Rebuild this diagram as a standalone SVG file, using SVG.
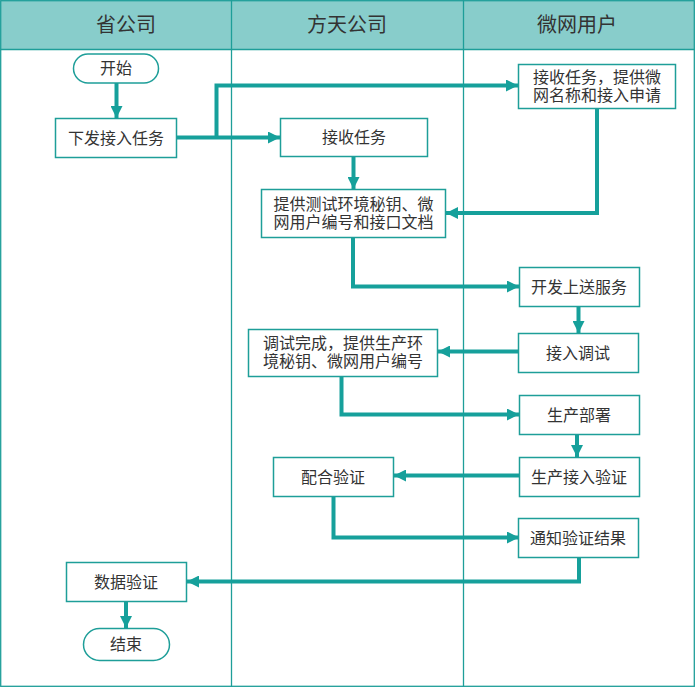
<svg xmlns="http://www.w3.org/2000/svg" width="695" height="687" viewBox="0 0 695 687">
<defs>
<marker id="arr" markerUnits="userSpaceOnUse" markerWidth="12" markerHeight="12" refX="12" refY="6" orient="auto" viewBox="0 0 12 12">
<path d="M0,0 L12,6 L0,12 z" fill="#16A09B"/>
</marker>
</defs>
<style>
.lane{fill:none;stroke:#1E9E99;stroke-width:1.3}
.box{fill:#fff;stroke:#1E9E99;stroke-width:1.5}
.t{font-family:"Noto Sans CJK SC","Noto Sans",sans-serif;font-size:16px;fill:#333;text-anchor:middle}
.h{font-family:"Noto Sans CJK SC","Noto Sans",sans-serif;font-size:20px;fill:#333;text-anchor:middle}
.c{fill:none;stroke:#16A09B;stroke-width:4;marker-end:url(#arr)}
</style>
<rect x="0" y="0" width="695" height="687" fill="#fff"/>
<g id="lanes">
<rect x="0.5" y="0.5" width="694" height="49" fill="#88CDCB" stroke="none"/>
<rect class="lane" x="0.7" y="0.7" width="693.6" height="685.6"/>
<line class="lane" x1="0" y1="49.5" x2="695" y2="49.5"/>
<line class="lane" x1="231.5" y1="0" x2="231.5" y2="687"/>
<line class="lane" x1="463.5" y1="0" x2="463.5" y2="687"/>
<text class="h" x="126" y="32">省公司</text>
<text class="h" x="347" y="32">方天公司</text>
<text class="h" x="577" y="32">微网用户</text>
</g>
<g id="connectors">
<path class="c" d="M116.5,83 V118"/>
<path class="c" d="M177,137.5 H280"/>
<path class="c" d="M216.5,137.5 V85.5 H518"/>
<path class="c" d="M353.5,157 V189"/>
<path class="c" d="M597,108 V213 H446"/>
<path class="c" d="M353,237 V286.5 H519"/>
<path class="c" d="M578.5,306 V333"/>
<path class="c" d="M518,351.5 H438"/>
<path class="c" d="M341.5,376 V414.5 H519"/>
<path class="c" d="M577,434 V457"/>
<path class="c" d="M519.5,475.5 H394"/>
<path class="c" d="M333.5,496 V537.5 H519"/>
<path class="c" d="M579,557 V581.5 H187"/>
<path class="c" d="M126,601 V628"/>
</g>
<g id="n-start">
<rect class="box" x="73.5" y="54" width="85" height="29" rx="14.5"/>
<text class="t" x="116" y="74">开始</text>
</g>
<g id="n-xiafa">
<rect class="box" x="55.5" y="118.5" width="121" height="39"/>
<text class="t" x="116" y="143.5">下发接入任务</text>
</g>
<g id="n-jieshou">
<rect class="box" x="280.5" y="118.5" width="147" height="38"/>
<text class="t" x="354" y="143">接收任务</text>
</g>
<g id="n-weiwang-jieshou">
<rect class="box" x="518.5" y="64.5" width="157" height="44"/>
<text class="t" x="597" y="82.5"><tspan x="597">接收任务，提供微</tspan><tspan x="597" dy="18.5">网名称和接入申请</tspan></text>
</g>
<g id="n-tigong-ceshi">
<rect class="box" x="261.5" y="189.5" width="184" height="48"/>
<text class="t" x="353.5" y="209.5"><tspan x="353.5">提供测试环境秘钥、微</tspan><tspan x="353.5" dy="18.5">网用户编号和接口文档</tspan></text>
</g>
<g id="n-kaifa">
<rect class="box" x="519.5" y="267.5" width="120" height="39"/>
<text class="t" x="579" y="292.5">开发上送服务</text>
</g>
<g id="n-jieru-tiaoshi">
<rect class="box" x="518.5" y="333.5" width="120" height="39"/>
<text class="t" x="578" y="358.5">接入调试</text>
</g>
<g id="n-tiaoshi-wancheng">
<rect class="box" x="248.5" y="329.5" width="189" height="47"/>
<text class="t" x="343" y="348.5"><tspan x="343">调试完成，提供生产环</tspan><tspan x="343" dy="18.5">境秘钥、微网用户编号</tspan></text>
</g>
<g id="n-shengchan-bushu">
<rect class="box" x="519.5" y="395.5" width="120" height="39"/>
<text class="t" x="579" y="420.5">生产部署</text>
</g>
<g id="n-shengchan-yanzheng">
<rect class="box" x="519.5" y="457.5" width="120" height="39"/>
<text class="t" x="579" y="482.5">生产接入验证</text>
</g>
<g id="n-peihe">
<rect class="box" x="273.5" y="457.5" width="120" height="39"/>
<text class="t" x="333" y="482.5">配合验证</text>
</g>
<g id="n-tongzhi">
<rect class="box" x="518.5" y="518.5" width="120" height="39"/>
<text class="t" x="578" y="543.5">通知验证结果</text>
</g>
<g id="n-shuju">
<rect class="box" x="66.5" y="562.5" width="120" height="39"/>
<text class="t" x="126" y="587.5">数据验证</text>
</g>
<g id="n-end">
<rect class="box" x="83.5" y="628.5" width="86" height="32" rx="16"/>
<text class="t" x="126" y="650">结束</text>
</g>
</svg>
